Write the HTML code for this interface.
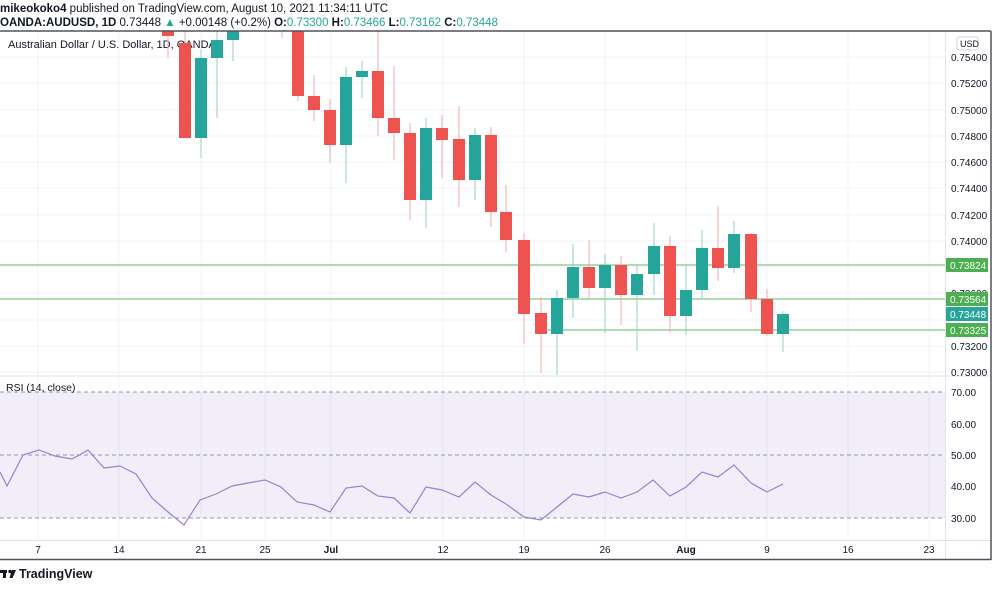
<!DOCTYPE html>
<html><head><meta charset="utf-8"><style>
body{margin:0;background:#fff;width:995px;height:596px;overflow:hidden;font-family:"Liberation Sans",sans-serif}
svg text{font-family:"Liberation Sans",sans-serif}
</style></head><body>
<svg width="995" height="596" xmlns="http://www.w3.org/2000/svg">
<rect width="995" height="596" fill="#fff"/>
<text x="0" y="12" font-size="11.5" fill="#131722"><tspan font-weight="bold">mikeokoko4</tspan> published on TradingView.com, August 10, 2021 11:34:11 UTC</text>
<text x="0" y="26" font-size="11.5" fill="#131722"><tspan font-weight="bold">OANDA:AUDUSD, 1D</tspan> 0.73448 <tspan fill="#26a69a">▲</tspan> +0.00148 (+0.2%) <tspan font-weight="bold">O:</tspan><tspan fill="#26a69a">0.73300</tspan> <tspan font-weight="bold">H:</tspan><tspan fill="#26a69a">0.73466</tspan> <tspan font-weight="bold">L:</tspan><tspan fill="#26a69a">0.73162</tspan> <tspan font-weight="bold">C:</tspan><tspan fill="#26a69a">0.73448</tspan></text>
<!-- gridlines -->
<g stroke="#f0f3fa" stroke-width="1">
<line x1="0" y1="57" x2="945" y2="57"/><line x1="0" y1="83" x2="945" y2="83"/><line x1="0" y1="110" x2="945" y2="110"/><line x1="0" y1="136" x2="945" y2="136"/><line x1="0" y1="162" x2="945" y2="162"/><line x1="0" y1="188" x2="945" y2="188"/><line x1="0" y1="215" x2="945" y2="215"/><line x1="0" y1="241" x2="945" y2="241"/><line x1="0" y1="267" x2="945" y2="267"/><line x1="0" y1="293" x2="945" y2="293"/><line x1="0" y1="320" x2="945" y2="320"/><line x1="0" y1="346" x2="945" y2="346"/><line x1="0" y1="372" x2="945" y2="372"/>
<line x1="38" y1="31" x2="38" y2="540"/><line x1="119" y1="31" x2="119" y2="540"/><line x1="201" y1="31" x2="201" y2="540"/><line x1="265" y1="31" x2="265" y2="540"/><line x1="331" y1="31" x2="331" y2="540"/><line x1="443" y1="31" x2="443" y2="540"/><line x1="524" y1="31" x2="524" y2="540"/><line x1="605" y1="31" x2="605" y2="540"/><line x1="686" y1="31" x2="686" y2="540"/><line x1="767" y1="31" x2="767" y2="540"/><line x1="848" y1="31" x2="848" y2="540"/><line x1="929" y1="31" x2="929" y2="540"/>
</g>
<text x="8" y="48" font-size="11" fill="#131722">Australian Dollar / U.S. Dollar, 1D, OANDA</text>
<!-- horizontal lines -->
<g stroke="#81c784" stroke-width="1.3">
<line x1="0" y1="265" x2="945" y2="265"/><line x1="0" y1="299" x2="945" y2="299"/><line x1="548" y1="330" x2="945" y2="330"/>
</g>
<!-- candles -->
<g>
<g stroke="#f7a9a7" fill="#ef5350">
<line x1="168" y1="31" x2="168" y2="58"/><rect x="162" y="31" width="12" height="5" stroke="none"/>
<line x1="185" y1="31" x2="185" y2="138"/><rect x="179" y="43" width="12" height="95" stroke="none"/>
<line x1="282" y1="31" x2="282" y2="38"/>
<line x1="298" y1="31" x2="298" y2="101"/><rect x="292" y="31" width="12" height="65" stroke="none"/>
<line x1="314" y1="75" x2="314" y2="121"/><rect x="308" y="96" width="12" height="14" stroke="none"/>
<line x1="330" y1="99" x2="330" y2="163"/><rect x="324" y="110" width="12" height="35" stroke="none"/>
<line x1="378" y1="31" x2="378" y2="136"/><rect x="372" y="71" width="12" height="47" stroke="none"/>
<line x1="394" y1="66" x2="394" y2="160"/><rect x="388" y="118" width="12" height="15" stroke="none"/>
<line x1="410" y1="123" x2="410" y2="220"/><rect x="404" y="133" width="12" height="67" stroke="none"/>
<line x1="442" y1="115" x2="442" y2="178"/><rect x="436" y="128" width="12" height="12" stroke="none"/>
<line x1="459" y1="106" x2="459" y2="207"/><rect x="453" y="139" width="12" height="41" stroke="none"/>
<line x1="491" y1="127" x2="491" y2="227"/><rect x="485" y="135" width="12" height="77" stroke="none"/>
<line x1="506" y1="185" x2="506" y2="252"/><rect x="500" y="212" width="12" height="28" stroke="none"/>
<line x1="524" y1="233" x2="524" y2="344"/><rect x="518" y="240" width="12" height="74" stroke="none"/>
<line x1="541" y1="297" x2="541" y2="373"/><rect x="535" y="313" width="12" height="21" stroke="none"/>
<line x1="589" y1="240" x2="589" y2="298"/><rect x="583" y="267" width="12" height="21" stroke="none"/>
<line x1="621" y1="256" x2="621" y2="325"/><rect x="615" y="265" width="12" height="30" stroke="none"/>
<line x1="670" y1="236" x2="670" y2="333"/><rect x="664" y="246" width="12" height="70" stroke="none"/>
<line x1="718" y1="206" x2="718" y2="281"/><rect x="712" y="248" width="12" height="20" stroke="none"/>
<line x1="751" y1="233" x2="751" y2="312"/><rect x="745" y="234" width="12" height="65" stroke="none"/>
<line x1="767" y1="289" x2="767" y2="336"/><rect x="761" y="299" width="12" height="35" stroke="none"/>
</g>
<g stroke="#8fd0c8" fill="#26a69a">
<line x1="201" y1="49" x2="201" y2="158"/><rect x="195" y="58" width="12" height="80" stroke="none"/>
<line x1="217" y1="31" x2="217" y2="118"/><rect x="211" y="40" width="12" height="18" stroke="none"/>
<line x1="233" y1="31" x2="233" y2="61"/><rect x="227" y="31" width="12" height="9" stroke="none"/>
<line x1="346" y1="67" x2="346" y2="183"/><rect x="340" y="77" width="12" height="68" stroke="none"/>
<line x1="362" y1="61" x2="362" y2="98"/><rect x="356" y="71" width="12" height="6" stroke="none"/>
<line x1="426" y1="118" x2="426" y2="228"/><rect x="420" y="128" width="12" height="72" stroke="none"/>
<line x1="475" y1="128" x2="475" y2="200"/><rect x="469" y="135" width="12" height="45" stroke="none"/>
<line x1="557" y1="290" x2="557" y2="375"/><rect x="551" y="298" width="12" height="36" stroke="none"/>
<line x1="573" y1="244" x2="573" y2="318"/><rect x="567" y="267" width="12" height="31" stroke="none"/>
<line x1="605" y1="254" x2="605" y2="333"/><rect x="599" y="265" width="12" height="23" stroke="none"/>
<line x1="637" y1="265" x2="637" y2="351"/><rect x="631" y="274" width="12" height="21" stroke="none"/>
<line x1="654" y1="223" x2="654" y2="295"/><rect x="648" y="246" width="12" height="28" stroke="none"/>
<line x1="686" y1="265" x2="686" y2="335"/><rect x="680" y="290" width="12" height="26" stroke="none"/>
<line x1="702" y1="230" x2="702" y2="298"/><rect x="696" y="248" width="12" height="42" stroke="none"/>
<line x1="734" y1="221" x2="734" y2="273"/><rect x="728" y="234" width="12" height="34" stroke="none"/>
<line x1="783" y1="311" x2="783" y2="352"/><rect x="777" y="314" width="12" height="20" stroke="none"/>
</g>
</g>
<!-- pane separator -->
<line x1="0" y1="376" x2="991" y2="376" stroke="#e0e3eb"/>
<!-- RSI pane -->
<rect x="0" y="392" width="945" height="126" fill="#7e57c2" fill-opacity="0.1"/>
<g stroke="#9598a1" stroke-dasharray="4,3" stroke-width="1">
<line x1="0" y1="392" x2="945" y2="392"/><line x1="0" y1="455" x2="945" y2="455"/><line x1="0" y1="518" x2="945" y2="518"/>
</g>
<text x="6" y="391" font-size="10.5" fill="#131722">RSI (14, close)</text>
<polyline fill="none" stroke="#9a7fd6" stroke-width="1.2" points="0,472 7,486 23,455 39,450 55,456 72,459 88,450 104,468 120,466 136,474 152,498 168,512 184,525 200,500 216,494 232,486 248,483 265,480 281,487 297,502 314,505 330,512 346,488 362,486 378,496 394,498 410,513 426,487 442,490 459,497 475,482 491,495 506,504 524,517 541,520 557,507 573,494 589,497 605,492 621,498 637,492 653,480 670,496 686,487 702,472 718,477 734,465 751,483 767,492 783,484"/>
<!-- axes -->
<line x1="945.5" y1="31" x2="945.5" y2="559" stroke="#e0e3eb"/>
<line x1="0" y1="540.5" x2="991" y2="540.5" stroke="#e0e3eb"/>
<line x1="0" y1="31" x2="991" y2="31" stroke="#50535e" stroke-width="1.5"/>
<line x1="991" y1="31" x2="991" y2="560" stroke="#50535e" stroke-width="1.5"/>
<line x1="0" y1="559.5" x2="991" y2="559.5" stroke="#50535e" stroke-width="1.5"/>
<g font-size="10" fill="#131722">
<rect x="957" y="37" width="21" height="13" rx="2" fill="#fff" stroke="#d1d4dc"/>
<text x="960" y="47" font-size="9">USD</text>
<text x="951" y="61">0.75400</text><text x="951" y="87">0.75200</text><text x="951" y="114">0.75000</text><text x="951" y="140">0.74800</text><text x="951" y="166">0.74600</text><text x="951" y="192">0.74400</text><text x="951" y="219">0.74200</text><text x="951" y="245">0.74000</text><text x="951" y="297">0.73600</text><text x="951" y="350">0.73200</text><text x="951" y="376">0.73000</text>
<text x="951" y="396">70.00</text><text x="951" y="428">60.00</text><text x="951" y="459">50.00</text><text x="951" y="490">40.00</text><text x="951" y="522">30.00</text>
</g>
<rect x="946" y="258" width="42" height="14" fill="#4caf50"/><text x="950" y="269" font-size="10" fill="#fff">0.73824</text>
<rect x="946" y="292" width="42" height="14" fill="#4caf50"/><text x="950" y="303" font-size="10" fill="#fff">0.73564</text>
<rect x="946" y="307" width="42" height="14" fill="#26a69a"/><text x="950" y="318" font-size="10" fill="#fff">0.73448</text>
<rect x="946" y="323" width="42" height="14" fill="#4caf50"/><text x="950" y="334" font-size="10" fill="#fff">0.73325</text>
<g font-size="10" fill="#131722" text-anchor="middle">
<text x="38" y="553">7</text><text x="119" y="553">14</text><text x="201" y="553">21</text><text x="265" y="553">25</text><text x="331" y="553" font-weight="bold">Jul</text><text x="443" y="553">12</text><text x="524" y="553">19</text><text x="605" y="553">26</text><text x="686" y="553" font-weight="bold">Aug</text><text x="767" y="553">9</text><text x="848" y="553">16</text><text x="929" y="553">23</text>
</g>
<g fill="#131722"><rect x="0" y="570" width="7" height="3"/><rect x="3" y="570" width="3" height="8"/><circle cx="10" cy="571.5" r="1.7"/><polygon points="12,570 16,570 12.5,578 9.5,578"/></g>
<text x="19" y="578" font-size="12.5" font-weight="bold" fill="#131722">TradingView</text>
</svg>
</body></html>
